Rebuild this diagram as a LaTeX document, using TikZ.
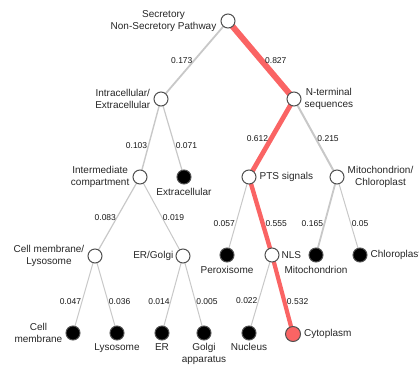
\documentclass[tikz,border=0pt]{standalone}
\usepackage{fontspec}
\setmainfont{Liberation Sans}
\usepackage{xcolor}
\usepackage{tikz}
\usetikzlibrary{positioning}
\pgfdeclarelayer{bg}
\pgfsetlayers{bg,main}
\definecolor{linkgrey}{RGB}{200,200,200}
\definecolor{linkred}{RGB}{250,100,100}
\definecolor{ringgrey}{RGB}{80,80,80}

\begin{document}
\begin{tikzpicture}[x=1pt, y=-1pt,
inner/.style={circle, draw=ringgrey, fill=white, line width=1pt, minimum size=14pt, inner sep=0pt},
leaf/.style={circle, draw=ringgrey, fill=black, line width=1pt, minimum size=14pt, inner sep=0pt},
hit/.style={circle, draw=ringgrey, fill=linkred, line width=1pt, minimum size=15pt, inner sep=0pt},
lbl/.style={font=\fontsize{10}{12}\selectfont, text=black!85, align=center, inner sep=1pt},
wt/.style={font=\fontsize{8.5}{10}\selectfont, text=black!90, inner sep=0.5pt},
glink/.style={draw=linkgrey},
rlink/.style={draw=linkred},
]
\clip (0,0) rectangle (419,369);

%Level 0
\node[inner] (root) at (228, 21) {};
\node[lbl, left=3pt of root] (root-t) {Secretory\\Non-Secretory Pathway};

%Level 1
\node[inner] (ie) at (161, 99) {};
\node[inner] (nt) at (294, 99) {};
\node[lbl, left=2pt of ie] (ie-t) {Intracellular/\\Extracellular};
\node[lbl, right=2pt of nt] (nt-t) {N-terminal\\sequences};

%Level 2
\node[inner] (imc) at (140, 177) {};
\node[leaf] (exc) at (184, 177) {};
\node[inner] (pts) at (249, 177) {};
\node[inner] (mc) at (337, 177) {};
\node[lbl, left=2pt of imc] (imc-t) {Intermediate\\compartment};
\node[lbl, below=3pt of exc] (exc-t) {Extracellular};
\node[lbl, right=2pt of pts] (pts-t) {PTS signals};
\node[lbl, right=2pt of mc] (mc-t) {Mitochondrion/\\Chloroplast};

%Level 3
\node[inner] (cml) at (95, 256) {};
\node[inner] (erg) at (183, 256) {};
\node[leaf] (per) at (227, 255) {};
\node[inner] (nls) at (272, 255) {};
\node[leaf] (mit) at (316, 255) {};
\node[leaf] (chl) at (360, 255) {};
\node[lbl, left=2pt of cml] (cml-t) {Cell membrane/\\Lysosome};
\node[lbl, left=1pt of erg] (erg-t) {ER/Golgi};
\node[lbl, below=3pt of per] (per-t) {Peroxisome};
\node[lbl, right=1pt of nls] (nls-t) {NLS};
\node[lbl, below=3pt of mit] (mit-t) {Mitochondrion};
\node[lbl, right=2pt of chl] (chl-t) {Chloroplast};

%Level 4
\node[leaf] (cm) at (73, 333) {};
\node[leaf] (lys) at (117, 333) {};
\node[leaf] (er) at (162, 333) {};
\node[leaf] (gol) at (204, 333) {};
\node[leaf] (nuc) at (249, 333) {};
\node[hit] (cyt) at (293, 334) {};
\node[lbl, left=2pt of cm] (cm-t) {Cell\\membrane};
\node[lbl, below=2pt of lys] (lys-t) {Lysosome};
\node[lbl, below=2pt of er] (er-t) {ER};
\node[lbl, below=2pt of gol] (gol-t) {Golgi\\apparatus};
\node[lbl, below=2pt of nuc] (nuc-t) {Nucleus};
\node[lbl, right=2pt of cyt] (cyt-t) {Cytoplasm};

\begin{pgfonlayer}{bg}
%Links level 0 -- level 1
\draw[glink, line width=1.8pt] (root.center) -- node[wt, pos=.51, anchor=east] {0.173} (ie.center);
\draw[rlink, line width=6pt] (root.center) -- node[wt, pos=.51, anchor=west] {0.827} (nt.center);

%Links level 1 -- level 2
\draw[glink, line width=1.4pt] (ie.center) -- node[wt, pos=.6, anchor=east] {0.103} (imc.center);
\draw[glink, line width=1.2pt] (ie.center) -- node[wt, pos=.6, anchor=west] {0.071} (exc.center);
\draw[rlink, line width=4.8pt] (nt.center) -- node[wt, pos=.51, anchor=east] {0.612} (pts.center);
\draw[glink, line width=2pt] (nt.center) -- node[wt, pos=.51, anchor=west] {0.215} (mc.center);

%Links level 2 -- level 3
\draw[glink, line width=1.2pt] (imc.center) -- node[wt, pos=.51, anchor=east] {0.083} (cml.center);
\draw[glink, line width=1pt] (imc.center) -- node[wt, pos=.51, anchor=west] {0.019} (erg.center);
\draw[glink, line width=1pt] (pts.center) -- node[wt, pos=.6, anchor=east] {0.057} (per.center);
\draw[rlink, line width=4.4pt] (pts.center) -- node[wt, pos=.6, anchor=west] {0.555} (nls.center);
\draw[glink, line width=1.8pt] (mc.center) -- node[wt, pos=.6, anchor=east] {0.165} (mit.center);
\draw[glink, line width=1pt] (mc.center) -- node[wt, pos=.6, anchor=west] {0.05} (chl.center);

%Links level 3 -- level 4
\draw[glink, line width=1pt] (cml.center) -- node[wt, pos=.59, anchor=east] {0.047} (cm.center);
\draw[glink, line width=1pt] (cml.center) -- node[wt, pos=.59, anchor=west] {0.036} (lys.center);
\draw[glink, line width=1pt] (erg.center) -- node[wt, pos=.59, anchor=east] {0.014} (er.center);
\draw[glink, line width=1pt] (erg.center) -- node[wt, pos=.59, anchor=west] {0.005} (gol.center);
\draw[glink, line width=1pt] (nls.center) -- node[wt, pos=.59, anchor=east] {0.022} (nuc.center);
\draw[rlink, line width=4.2pt] (nls.center) -- node[wt, pos=.59, anchor=west] {0.532} (cyt.center);
\end{pgfonlayer}
\end{tikzpicture}
\end{document}
